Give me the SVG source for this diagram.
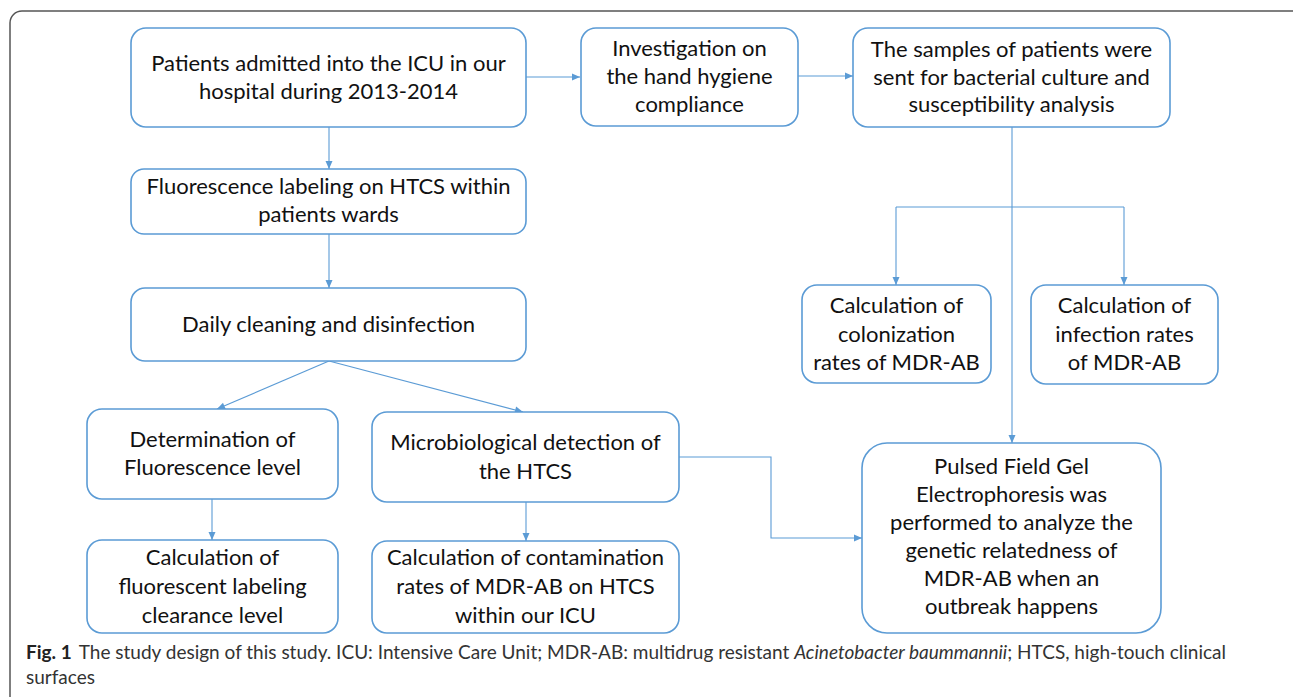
<svg xmlns="http://www.w3.org/2000/svg" width="1293" height="697" viewBox="0 0 1293 697">
<style>
.box{fill:#fff;stroke:#5b9bd5;stroke-width:1.6}
.t{font-family:Lato,"Liberation Sans",sans-serif;font-size:22px;fill:#111;text-anchor:middle}
.c{fill:none;stroke:#5b9bd5;stroke-width:1.1}
.cap{font-family:Lato,"Liberation Sans",sans-serif;font-size:19px;fill:#333}
</style>
<defs>
<marker id="ah" markerUnits="userSpaceOnUse" markerWidth="10" markerHeight="10" viewBox="0 0 10 10" refX="9" refY="5" orient="auto">
<path d="M1,1.5 L9,5 L1,8.5 Z" fill="#5b9bd5"/>
</marker>
</defs>
<rect x="10" y="11" width="1300" height="710" rx="12" fill="#fff" stroke="#555" stroke-width="1.5"/>
<g id="connectors">
<path class="c" d="M526 77 H580" marker-end="url(#ah)"/>
<path class="c" d="M798 76 H853" marker-end="url(#ah)"/>
<path class="c" d="M329 127 V169" marker-end="url(#ah)"/>
<path class="c" d="M329 234 V288" marker-end="url(#ah)"/>
<path class="c" d="M329 361 L217 409" marker-end="url(#ah)"/>
<path class="c" d="M329 361 L523 412" marker-end="url(#ah)"/>
<path class="c" d="M212 499 V540" marker-end="url(#ah)"/>
<path class="c" d="M526 502 V541" marker-end="url(#ah)"/>
<path class="c" d="M679 457 H771 V538 H862" marker-end="url(#ah)"/>
<path class="c" d="M1012 127 V443" marker-end="url(#ah)"/>
<path class="c" d="M896 207 H1124"/>
<path class="c" d="M896 207 V285" marker-end="url(#ah)"/>
<path class="c" d="M1124 207 V285" marker-end="url(#ah)"/>
</g>
<g id="n1"><rect class="box" x="131" y="28" width="395" height="99" rx="15"/>
<text class="t" x="328.5" y="71">Patients admitted into the ICU in our</text>
<text class="t" x="328.5" y="99">hospital during 2013-2014</text></g>
<g id="n2"><rect class="box" x="581" y="28" width="217" height="98" rx="15"/>
<text class="t" x="689.5" y="56">Investigation on</text>
<text class="t" x="689.5" y="84">the hand hygiene</text>
<text class="t" x="689.5" y="112">compliance</text></g>
<g id="n3"><rect class="box" x="853" y="28" width="317" height="99" rx="15"/>
<text class="t" x="1011.5" y="57">The samples of patients were</text>
<text class="t" x="1011.5" y="85">sent for bacterial culture and</text>
<text class="t" x="1011.5" y="112">susceptibility analysis</text></g>
<g id="n4"><rect class="box" x="131" y="169" width="395" height="65" rx="13"/>
<text class="t" x="328.5" y="194">Fluorescence labeling on HTCS within</text>
<text class="t" x="328.5" y="222">patients wards</text></g>
<g id="n5"><rect class="box" x="131" y="288" width="395" height="73" rx="14"/>
<text class="t" x="328.5" y="332">Daily cleaning and disinfection</text></g>
<g id="n6"><rect class="box" x="87" y="409" width="251" height="90" rx="15"/>
<text class="t" x="212.5" y="447">Determination of</text>
<text class="t" x="212.5" y="475">Fluorescence level</text></g>
<g id="n7"><rect class="box" x="372" y="412" width="307" height="90" rx="15"/>
<text class="t" x="525.5" y="450">Microbiological detection of</text>
<text class="t" x="525.5" y="479">the HTCS</text></g>
<g id="n8"><rect class="box" x="87" y="540" width="251" height="93" rx="15"/>
<text class="t" x="212.5" y="565">Calculation of</text>
<text class="t" x="212.5" y="594">fluorescent labeling</text>
<text class="t" x="212.5" y="623">clearance level</text></g>
<g id="n9"><rect class="box" x="372" y="541" width="307" height="92" rx="15"/>
<text class="t" x="525.5" y="565">Calculation of contamination</text>
<text class="t" x="525.5" y="594">rates of MDR-AB on HTCS</text>
<text class="t" x="525.5" y="623">within our ICU</text></g>
<g id="n10"><rect class="box" x="802" y="285" width="189" height="98" rx="15"/>
<text class="t" x="896.5" y="313">Calculation of</text>
<text class="t" x="896.5" y="342">colonization</text>
<text class="t" x="896.5" y="370">rates of MDR-AB</text></g>
<g id="n11"><rect class="box" x="1031" y="285" width="187" height="99" rx="15"/>
<text class="t" x="1124.5" y="313">Calculation of</text>
<text class="t" x="1124.5" y="342">infection rates</text>
<text class="t" x="1124.5" y="370">of MDR-AB</text></g>
<g id="n12"><rect class="box" x="862" y="443" width="299" height="190" rx="25"/>
<text class="t" x="1011.5" y="474">Pulsed Field Gel</text>
<text class="t" x="1011.5" y="502">Electrophoresis was</text>
<text class="t" x="1011.5" y="530">performed to analyze the</text>
<text class="t" x="1011.5" y="558">genetic relatedness of</text>
<text class="t" x="1011.5" y="586">MDR-AB when an</text>
<text class="t" x="1011.5" y="614">outbreak happens</text></g>
<g id="caption">
<text class="cap" x="26" y="659"><tspan font-weight="bold" fill="#222">Fig. 1</tspan><tspan dx="7">The study design of this study. ICU: Intensive Care Unit; MDR-AB: multidrug resistant </tspan><tspan font-style="italic">Acinetobacter baummannii</tspan>; HTCS, high-touch clinical</text>
<text class="cap" x="26" y="684">surfaces</text>
</g>
</svg>
